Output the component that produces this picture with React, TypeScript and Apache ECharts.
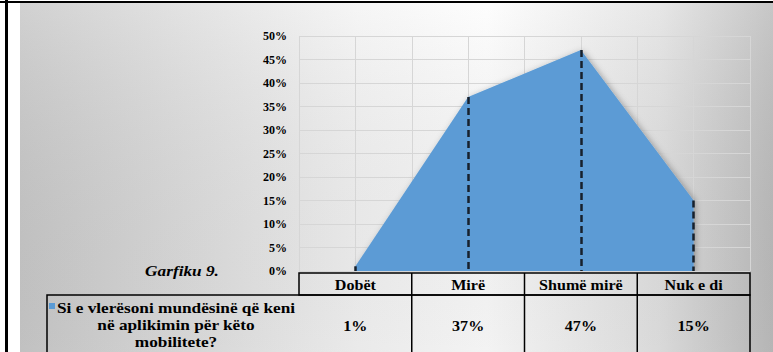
import React, { useEffect, useRef } from "react";
import * as echarts from "echarts";

const categories = ["Dobët", "Mirë", "Shumë mirë", "Nuk e di"];
const values = [1, 37, 47, 15];
const valueLabels = ["1%", "37%", "47%", "15%"];
const legendLines = ["Si e vlerësoni mundësinë që keni", "në aplikimin për këto", "mobilitete?"];
const chartCaption = "Garfiku 9.";
const yMax = 50;
const yStep = 5;

const SERIF = "Liberation Serif";
const AREA = "#5b9bd5";

export default function App() {
  const ref = useRef<HTMLDivElement>(null);
  useEffect(() => {
    if (!ref.current) return;
    const chart = echarts.init(ref.current, undefined, { renderer: "svg" });
    const gridLeft = 299;
    const gridRight = 23;
    const gridTop = 36;
    const gridBottom = 81;
    chart.setOption({
      animation: false,
      grid: { left: gridLeft, right: gridRight, top: gridTop, bottom: gridBottom, containLabel: false },
      xAxis: [
        {
          type: "category",
          data: categories,
          boundaryGap: true,
          axisLine: { show: false },
          axisTick: { show: false },
          axisLabel: { show: false },
          splitLine: { show: true, lineStyle: { color: "#d6d6d6", width: 1 } },
        },
        {
          type: "value",
          min: 0,
          max: categories.length * 2,
          interval: 1,
          axisLine: { show: false },
          axisTick: { show: false },
          axisLabel: { show: false },
          splitLine: { show: true, lineStyle: { color: "#d6d6d6", width: 1 } },
        },
      ],
      yAxis: {
        type: "value",
        min: 0,
        max: yMax,
        interval: yStep,
        axisLine: { show: false },
        axisTick: { show: false },
        axisLabel: {
          formatter: "{value}%",
          fontFamily: SERIF,
          fontWeight: "bold",
          fontSize: 12,
          color: "#000",
          margin: 12,
        },
        splitLine: { show: true, lineStyle: { color: "#d6d6d6", width: 1 } },
      },
      series: [
        {
          type: "line",
          name: legendLines.join(" "),
          data: values,
          symbol: "none",
          lineStyle: { width: 0 },
          areaStyle: {
            color: AREA,
            opacity: 1,
            shadowBlur: 6,
            shadowColor: "rgba(0,0,0,0.3)",
            shadowOffsetX: 2,
            shadowOffsetY: 1,
          },
          z: 3,
          markLine: {
            silent: true,
            symbol: ["none", "none"],
            label: { show: false },
            lineStyle: { type: [7, 4], color: "#17212c", width: 2.5 },
            data: values.map((v, i) => [
              { coord: [categories[i], v] },
              { coord: [categories[i], 0] },
            ]),
          },
        },
      ],
    });

    const xs = categories.map((c) => chart.convertToPixel({ xAxisIndex: 0 }, c) as number);
    const yZero = chart.convertToPixel({ yAxisIndex: 0 }, 0) as number;
    const plotRight = 773 - gridRight;
    const colW = (plotRight - gridLeft) / categories.length;
    const headTop = yZero + 2;
    const headBot = headTop + 22;
    const rowBot = 358;
    const tableLeft = 47;
    const SX = 1.15;
    const lineStyle = { stroke: "#000", lineWidth: 1.5 };

    const graphics: any[] = [
      {
        type: "rect",
        z: -10,
        silent: true,
        shape: { x: 20, y: 3, width: 753, height: 349 },
        style: {
          fill: new echarts.graphic.LinearGradient(0, 0, 1, 0, [
            { offset: 0, color: "#c9c9c9" },
            { offset: 0.45, color: "#f4f4f4" },
            { offset: 0.62, color: "#fdfdfd" },
            { offset: 0.85, color: "#e2e2e2" },
            { offset: 1, color: "#bdbdbd" },
          ]),
        },
      },
      {
        type: "rect",
        z: -9,
        silent: true,
        shape: { x: 20, y: 3, width: 753, height: 349 },
        style: {
          fill: new echarts.graphic.LinearGradient(0, 0, 0, 1, [
            { offset: 0, color: "rgba(255,255,255,0.15)" },
            { offset: 1, color: "rgba(0,0,0,0.04)" },
          ]),
        },
      },
      { type: "line", z: 20, shape: { x1: 0, y1: 2, x2: 773, y2: 2 }, style: { stroke: "#000", lineWidth: 2 } },
      { type: "line", z: 20, shape: { x1: 6.5, y1: 0, x2: 6.5, y2: 352 }, style: { stroke: "#000", lineWidth: 3 } },
      { type: "rect", z: 10, shape: { x: gridLeft, y: headTop, width: plotRight - gridLeft, height: headBot - headTop }, style: { fill: "none", ...lineStyle } },
      { type: "rect", z: 10, shape: { x: tableLeft, y: headBot, width: plotRight - tableLeft, height: rowBot - headBot }, style: { fill: "none", ...lineStyle } },
    ];
    for (let i = 1; i < categories.length; i++) {
      const x = gridLeft + colW * i;
      graphics.push({ type: "line", z: 10, shape: { x1: x, y1: headTop, x2: x, y2: rowBot }, style: lineStyle });
    }
    categories.forEach((c, i) => {
      graphics.push({
        type: "text",
        z: 11,
        x: xs[i],
        y: (headTop + headBot) / 2 + 1,
        scaleX: SX,
        style: { text: c, fontFamily: SERIF, fontWeight: "bold", fontSize: 14, fill: "#000", align: "center", verticalAlign: "middle" },
      });
      graphics.push({
        type: "text",
        z: 11,
        x: xs[i],
        y: 326,
        scaleX: SX,
        style: { text: valueLabels[i], fontFamily: SERIF, fontWeight: "bold", fontSize: 14, fill: "#000", align: "center", verticalAlign: "middle" },
      });
    });
    const legendCx = 176;
    legendLines.forEach((t, i) => {
      graphics.push({
        type: "text",
        z: 11,
        x: legendCx,
        y: 308 + i * 17,
        scaleX: SX,
        style: { text: t, fontFamily: SERIF, fontWeight: "bold", fontSize: 15, fill: "#000", align: "center", verticalAlign: "middle" },
      });
    });
    graphics.push({ type: "rect", z: 11, shape: { x: 49, y: 303, width: 6, height: 6 }, style: { fill: AREA } });
    graphics.push({
      type: "text",
      z: 11,
      x: 182,
      y: 271,
      scaleX: SX,
      style: { text: chartCaption, fontFamily: SERIF, fontWeight: "bold", fontStyle: "italic", fontSize: 15, fill: "#000", align: "center", verticalAlign: "middle" },
    });

    chart.setOption({ graphic: graphics });
    return () => chart.dispose();
  }, []);
  return <div ref={ref} style={{ position: "absolute", left: 0, top: 0, width: 773, height: 352 }} />;
}
